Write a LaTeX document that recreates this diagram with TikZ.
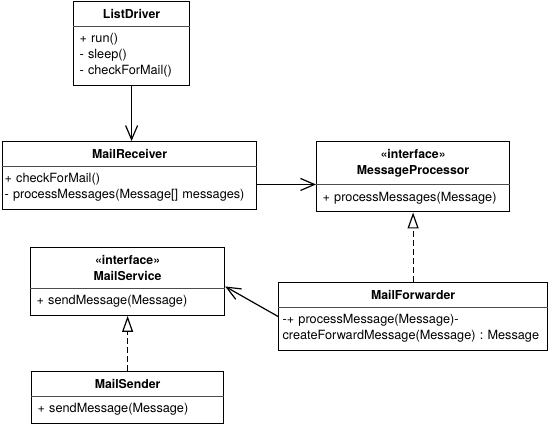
\documentclass[tikz,border=0pt]{standalone}
\usepackage{fontspec}
\setmainfont{TeX Gyre Heros}
\usetikzlibrary{shapes.multipart,arrows.meta,positioning}
\newcommand{\umlname}[1]{\makebox[\linewidth]{\fontsize{12.3}{15}\selectfont\bfseries #1}}

\begin{document}
\begin{tikzpicture}[x=1pt,y=-1pt,
  umlclass/.style={rectangle split,rectangle split parts=2,
    rectangle split draw splits=false,draw,line width=1.2pt,
    text width=#1,inner xsep=6pt,inner ysep=7pt,align=left,anchor=north west,
    font=\fontsize{12.7}{16}\selectfont\frenchspacing},
  splitline/.style={line width=0.6pt,black!70},
  assoc/.style={line width=1.2pt,-{Straight Barb[length=14pt,width=12pt]}},
  realize/.style={line width=1.2pt,dash pattern=on 6pt off 3pt,
    -{Triangle[open,length=16pt,width=11pt,fill=white]}}]
  \useasboundingbox (0,0) rectangle (550,425);

  \node[umlclass=104pt] (ld) at (73,1)
    {\umlname{ListDriver}
     \nodepart{two}+ run()\\- sleep()\\- checkForMail()};
  \node[umlclass=250pt,inner xsep=2pt] (mr) at (2,141)
    {\umlname{MailReceiver}
     \nodepart{two}+ checkForMail()\\- processMessages(Message[] messages)};
  \node[umlclass=181pt] (mp) at (316,141)
    {\umlname{«interface»}\\\umlname{MessageProcessor}
     \nodepart{two}+ processMessages(Message)};
  \node[umlclass=182pt] (ms) at (30,247)
    {\umlname{«interface»}\\\umlname{MailService}
     \nodepart{two}+ sendMessage(Message)};
  \node[umlclass=261pt,inner xsep=4pt] (mf) at (278,282)
    {\umlname{MailForwarder}
     \nodepart{two}-+ processMessage(Message)-\\createForwardMessage(Message) : Message};
  \node[umlclass=180pt] (msn) at (31,371)
    {\umlname{MailSender}
     \nodepart{two}+ sendMessage(Message)};

  % compartment lines
  \foreach \n in {ld,mr,mp,ms,mf,msn}
    \draw[splitline] (\n.one split west) -- (\n.one split east);

  \draw[assoc] (ld.south) -- (ld.south |- mr.north);
  \draw[assoc] ([yshift=-9pt]mr.east) -- ([yshift=-9pt]mr.east -| mp.west);
  \draw[assoc] (mf.west) -- ([yshift=-5pt]ms.east);
  \draw[realize] (mf) -- (mp);
  \draw[realize] (msn) -- (ms);
\end{tikzpicture}
\end{document}
